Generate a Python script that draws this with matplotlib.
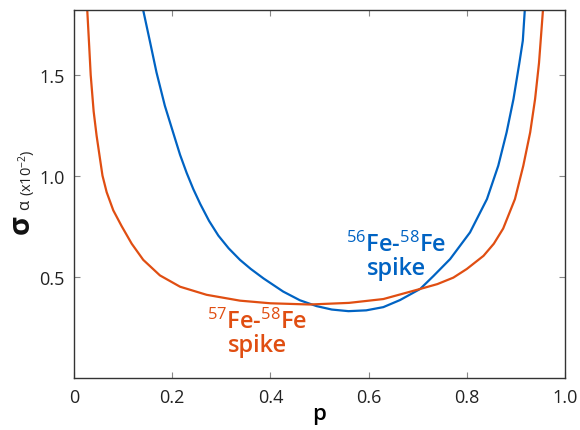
import matplotlib
matplotlib.use("Agg")
import matplotlib.pyplot as plt

plt.rcParams['font.family'] = ['Open Sans', 'DejaVu Sans']
plt.rcParams['mathtext.fontset'] = 'custom'
plt.rcParams['mathtext.rm'] = 'Open Sans'
plt.rcParams['mathtext.it'] = 'Open Sans'
plt.rcParams['mathtext.bf'] = 'Open Sans:bold'

# 56Fe-58Fe spike (blue)
p_56 = [0.135, 0.141, 0.155, 0.168, 0.185, 0.206, 0.216, 0.2295, 0.243, 0.257, 0.275,
        0.294, 0.315, 0.338, 0.360, 0.386, 0.426, 0.460, 0.494, 0.525, 0.559, 0.595,
        0.630, 0.664, 0.705, 0.732, 0.766, 0.8065, 0.841, 0.864, 0.881, 0.895, 0.907,
        0.914, 0.918, 0.921]
s_56 = [1.95, 1.82, 1.662, 1.513, 1.348, 1.183, 1.105, 1.015, 0.935, 0.862, 0.778,
        0.705, 0.642, 0.585, 0.540, 0.493, 0.428, 0.385, 0.356, 0.339, 0.331, 0.335,
        0.351, 0.386, 0.441, 0.505, 0.589, 0.721, 0.886, 1.051, 1.216, 1.381, 1.56,
        1.67, 1.82, 1.92]

# 57Fe-58Fe spike (orange)
p_57 = [0.024, 0.027, 0.031, 0.034, 0.040, 0.046, 0.053, 0.058, 0.0665, 0.080, 0.097,
        0.1175, 0.141, 0.175, 0.216, 0.270, 0.338, 0.400, 0.480, 0.560, 0.630, 0.705,
        0.740, 0.7725, 0.800, 0.834, 0.855, 0.874, 0.898, 0.915, 0.929, 0.939, 0.947,
        0.955, 0.958]
s_57 = [1.96, 1.82, 1.64, 1.50, 1.32, 1.20, 1.084, 1.002, 0.920, 0.830, 0.752,
        0.665, 0.585, 0.508, 0.452, 0.412, 0.383, 0.370, 0.364, 0.372, 0.391, 0.441,
        0.465, 0.497, 0.540, 0.605, 0.665, 0.740, 0.886, 1.051, 1.216, 1.381, 1.56,
        1.82, 1.92]

x_ticks = [0, 0.2, 0.4, 0.6, 0.8, 1.0]
x_ticklabels = ['0', '0.2', '0.4', '0.6', '0.8', '1.0']
y_ticks = [0.5, 1.0, 1.5]
y_ticklabels = ['0.5', '1.0', '1.5']

blue = '#0063C3'
orange = '#E04E12'

fig = plt.figure(figsize=(5.8, 4.31), dpi=100)
ax = fig.add_axes([0.1276, 0.1206, 0.8466, 0.8539])

ax.plot(p_56, s_56, color=blue, lw=1.6, solid_joinstyle='round')
ax.plot(p_57, s_57, color=orange, lw=1.6, solid_joinstyle='round')

ax.set_xlim(0, 1)
ax.set_ylim(0, 1.822)
ax.set_xticks(x_ticks)
ax.set_xticklabels(x_ticklabels)
ax.set_yticks(y_ticks)
ax.set_yticklabels(y_ticklabels)
ax.tick_params(direction='in', length=4, width=0.8, color='#888888', labelsize=13,
               labelcolor='#222222', top=True, right=True, pad=7)
for sp in ax.spines.values():
    sp.set_color('#333333')
    sp.set_linewidth(1.0)

ax.set_xlabel('p', fontsize=16, fontweight='semibold', labelpad=-2)

# y label pieces
fig.text(0.036, 0.478, 'σ', rotation=90, fontsize=21, fontweight='bold',
         ha='center', va='center', color='#111111')
fig.text(0.043, 0.524, 'α', rotation=90, fontsize=12,
         ha='center', va='center', color='#222222')
fig.text(0.047, 0.600, r'(x10$^{-2}$)', rotation=90, fontsize=10.5,
         ha='center', va='center', color='#222222')

ax.text(0.657, 0.604, r'$^{56}$Fe-$^{58}$Fe' + '\nspike', color=blue, fontsize=17,
        fontweight='semibold', ha='center', va='center', linespacing=0.95)
ax.text(0.373, 0.222, r'$^{57}$Fe-$^{58}$Fe' + '\nspike', color=orange, fontsize=17,
        fontweight='semibold', ha='center', va='center', linespacing=0.95)

fig.savefig('out.png', dpi=100)
